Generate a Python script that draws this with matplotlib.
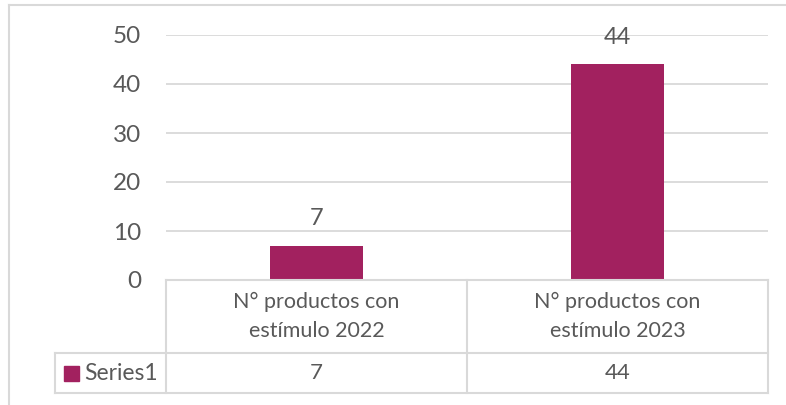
import matplotlib.pyplot as plt
from matplotlib.lines import Line2D
from matplotlib.patches import Rectangle
from matplotlib.transforms import blended_transform_factory

plt.rcParams['font.family'] = ['Lato', 'DejaVu Sans']

categories = ['N° productos con\nestímulo 2022', 'N° productos con\nestímulo 2023']
values = [7, 44]
series_name = 'Series1'
yticks = [0, 10, 20, 30, 40, 50]

bar_color = '#A2215F'
text_color = '#595959'
line_color = '#D9D9D9'

W, H = 786, 405
fig = plt.figure(figsize=(W / 100, H / 100), dpi=100)

def fx(px):
    return px / W

def fy(py):
    return 1 - py / H

# outer chart border (only top and left are visible)
fig.add_artist(Line2D([fx(9), 1], [fy(5), fy(5)], color=line_color, lw=1.5))
fig.add_artist(Line2D([fx(9), fx(9)], [fy(5), 0], color=line_color, lw=1.5))

ax = fig.add_axes([fx(166), fy(280), fx(768) - fx(166), fy(35) - fy(280)])
x = list(range(len(categories)))
bars = ax.bar(x, values, width=0.31, color=bar_color, zorder=3)
ax.set_xlim(-0.5, len(categories) - 0.5)
ax.set_ylim(0, 50)
ax.set_yticks(yticks)
ax.set_xticks([])
ax.tick_params(axis='y', length=0, pad=18, labelsize=17.5, labelcolor=text_color)
ax.grid(axis='y', color=line_color, linewidth=1.3, zorder=0)
for s in ax.spines.values():
    s.set_visible(False)

for xi, v in zip(x, values):
    ax.annotate(str(v), (xi, v), xytext=(0, 12), textcoords='offset points',
                ha='center', va='bottom', fontsize=17, color=text_color)

# data table below the plot
tr = blended_transform_factory(ax.transData, fig.transFigure)
y_top, y_mid, y_bot = fy(280), fy(353), fy(393)
lw = 1.5
fig.add_artist(Line2D([fx(166), fx(166)], [y_top, y_bot], color=line_color, lw=lw))
fig.add_artist(Line2D([fx(768), fx(768)], [y_top, y_bot], color=line_color, lw=lw))
fig.add_artist(Line2D([fx(467), fx(467)], [y_top, y_bot], color=line_color, lw=lw))
fig.add_artist(Line2D([fx(166), fx(768)], [y_top, y_top], color=line_color, lw=lw))
fig.add_artist(Line2D([fx(55), fx(768)], [y_mid, y_mid], color=line_color, lw=lw))
fig.add_artist(Line2D([fx(55), fx(768)], [y_bot, y_bot], color=line_color, lw=lw))
fig.add_artist(Line2D([fx(55), fx(55)], [y_mid, y_bot], color=line_color, lw=lw))

for xi, cat, v in zip(x, categories, values):
    ax.text(xi, (y_top + y_mid) / 2, cat, transform=tr, ha='center', va='center',
            fontsize=15.5, color=text_color, linespacing=1.55)
    ax.text(xi, (y_mid + y_bot) / 2, str(v), transform=tr, ha='center', va='center',
            fontsize=16, color=text_color)

fig.add_artist(Rectangle((fx(64), fy(381)), fx(15), fy(366) - fy(381),
                         transform=fig.transFigure, color=bar_color))
fig.text(fx(84), (y_mid + y_bot) / 2, series_name, ha='left', va='center',
         fontsize=16.5, color=text_color)

fig.savefig('out.png', dpi=100)
